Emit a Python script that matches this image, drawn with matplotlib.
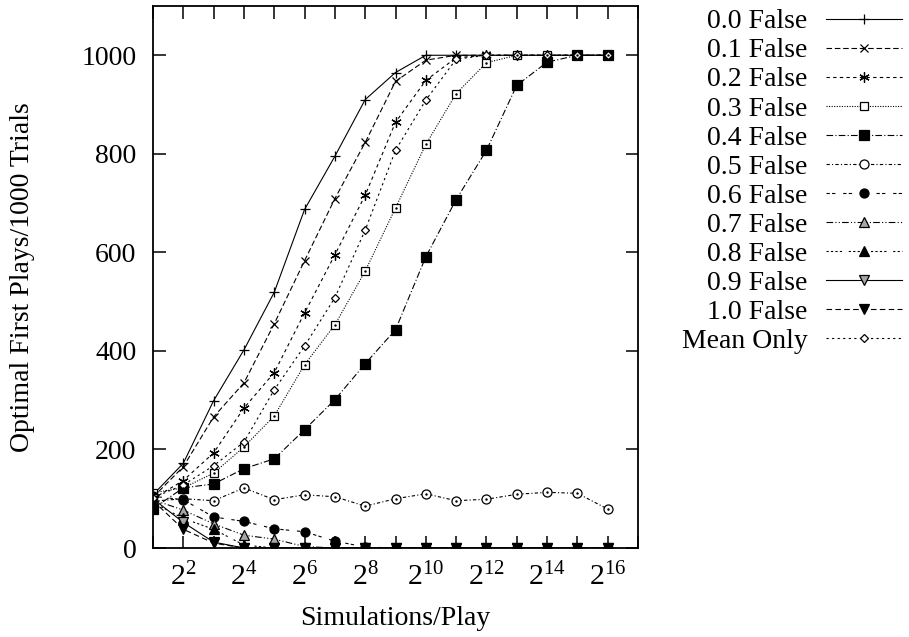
import math
import matplotlib
matplotlib.use('Agg')
import matplotlib.pyplot as plt
from matplotlib.ticker import FixedLocator, FuncFormatter

plt.rcParams['font.family'] = ['Liberation Serif', 'DejaVu Serif']
plt.rcParams['mathtext.fontset'] = 'custom'
plt.rcParams['mathtext.rm'] = 'Liberation Serif'
plt.rcParams['mathtext.it'] = 'Liberation Serif'

# simulations per play: 2^1 .. 2^16
sims = [2 ** k for k in range(1, 17)]

s00 = [108, 172, 299, 402, 519, 687, 795, 910, 965, 1000, 1000, 1000, 1000, 1000, 1000, 1000]
s01 = [103, 165, 266, 335, 455, 583, 709, 823, 947, 990, 1000, 1000, 1000, 1000, 1000, 1000]
s02 = [100, 137, 193, 284, 356, 477, 595, 716, 864, 949, 995, 1000, 1000, 1000, 1000, 1000]
s03 = [112, 122, 152, 205, 268, 372, 453, 562, 690, 819, 922, 985, 1000, 1000, 1000, 1000]
s04 = [80, 122, 130, 161, 181, 240, 301, 374, 443, 591, 707, 807, 939, 986, 1000, 1000]
s05 = [95, 100, 96, 122, 98, 108, 104, 85, 100, 110, 96, 99, 109, 113, 111, 79]
s06 = [105, 98, 63, 54, 39, 33, 14, 2, 0, 0, 0, 0, 0, 0, 0, 0]
s07 = [98, 77, 49, 26, 18, 3, 0, 0, 0, 0, 0, 0, 0, 0, 0, 0]
s08 = [92, 60, 38, 6, 0, 0, 0, 0, 0, 0, 0, 0, 0, 0, 0, 0]
s09 = [100, 52, 12, 0, 0, 0, 0, 0, 0, 0, 0, 0, 0, 0, 0, 0]
s10 = [96, 38, 10, 0, 0, 0, 0, 0, 0, 0, 0, 0, 0, 0, 0, 0]
mean_only = [102, 128, 167, 215, 321, 410, 508, 645, 807, 909, 992, 1000, 1000, 1000, 1000, 1000]

labels = ['0.0 False', '0.1 False', '0.2 False', '0.3 False', '0.4 False',
          '0.5 False', '0.6 False', '0.7 False', '0.8 False', '0.9 False',
          '1.0 False', 'Mean Only']
series = [s00, s01, s02, s03, s04, s05, s06, s07, s08, s09, s10, mean_only]

styles = [
    dict(ls='-', marker='+', ms=7.5),
    dict(ls=(0, (5, 2.5)), marker='x', ms=6),
    dict(ls=(0, (3, 3)), marker=(6, 2, 0), ms=7.5),
    dict(ls=(0, (1, 1.3)), marker='s', ms=6, mfc='white'),
    dict(ls=(0, (6, 2, 1, 2)), marker='s', ms=6.5, mfc='black'),
    dict(ls=(0, (3, 2, 1, 2)), marker='o', ms=6.5, mfc='white'),
    dict(ls=(0, (3, 2, 3, 7)), marker='o', ms=6.5, mfc='black'),
    dict(ls=(0, (6, 2, 1, 2, 1, 2)), marker='^', ms=6.5, mfc='0.65'),
    dict(ls=(0, (2, 2, 2, 2, 2, 2, 2, 6)), marker='^', ms=6.5, mfc='black'),
    dict(ls='-', marker='v', ms=6.5, mfc='0.65'),
    dict(ls=(0, (5, 3)), marker='v', ms=6.5, mfc='black'),
    dict(ls=(0, (2, 3)), marker='D', ms=4.5, mfc='white'),
]

fig = plt.figure(figsize=(9.09, 6.37), dpi=100)
ax = fig.add_axes([0.1683, 0.1397, 0.5336, 0.8509])

for y, lab, st in zip(series, labels, styles):
    ax.plot(sims, y, color='black', lw=0.8, mew=0.9, mec='black',
            label=lab, **st)

# centre dots of the open square and open circle (gnuplot style)
ax.plot(sims, s03, ls='none', marker='.', ms=1.5, color='black')
ax.plot(sims, s05, ls='none', marker='.', ms=1.5, color='black')


def xfmt(v, pos):
    k = round(math.log2(v))
    if k % 2 == 0 and k < 17:
        return r'$2^{%d}$' % k
    return ''


ax.set_xscale('log', base=2)
ax.set_xlim(2, 2 ** 17)
ax.set_ylim(0, 1100)
ax.xaxis.set_major_locator(FixedLocator([2 ** k for k in range(1, 18)]))
ax.xaxis.set_minor_locator(FixedLocator([]))
ax.xaxis.set_major_formatter(FuncFormatter(xfmt))
ax.set_yticks([0, 200, 400, 600, 800, 1000])

ax.tick_params(direction='in', length=9, width=1.1, top=True, right=True,
               labelsize=20)
ax.tick_params(axis='y', pad=12)
ax.tick_params(axis='x', pad=11, labelsize=21.5)
for sp in ax.spines.values():
    sp.set_linewidth(1.3)

ax.set_xlabel('Simulations/Play', fontsize=20, labelpad=10)
ax.set_ylabel('Optimal First Plays/1000 Trials', fontsize=20, labelpad=33)

leg = ax.legend(loc='upper left', bbox_to_anchor=(0.75, 0.986),
                bbox_transform=fig.transFigure, markerfirst=False,
                frameon=False, fontsize=20, handlelength=2.75,
                handletextpad=0.65, labelspacing=0.13, borderpad=0.0,
                borderaxespad=0.0)

fig.savefig('out.png', dpi=100)
